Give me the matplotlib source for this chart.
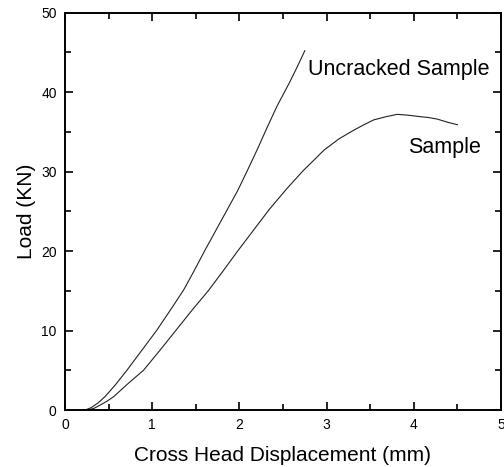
import matplotlib.pyplot as plt
from matplotlib.ticker import MultipleLocator

plt.rcParams['font.family'] = ['Liberation Sans', 'DejaVu Sans']

# Uncracked sample curve (displacement mm, load kN)
uncracked_x = [0.23, 0.30, 0.38, 0.46, 0.58, 0.71, 0.88, 1.05, 1.21, 1.36, 1.48, 1.60,
               1.73, 1.86, 1.98, 2.09, 2.21, 2.32, 2.43, 2.57, 2.66, 2.75]
uncracked_y = [0.0, 0.3, 0.9, 1.7, 3.2, 5.0, 7.5, 10.0, 12.6, 15.1, 17.5, 20.0,
               22.6, 25.2, 27.6, 30.1, 32.9, 35.6, 38.2, 41.1, 43.1, 45.2]

# Cracked sample curve
sample_x = [0.25, 0.33, 0.40, 0.48, 0.56, 0.72, 0.90, 1.08, 1.27, 1.46, 1.65, 1.82,
            1.98, 2.16, 2.34, 2.54, 2.73, 2.86, 2.97, 3.14, 3.31, 3.43, 3.54, 3.68,
            3.81, 3.93, 4.08, 4.17, 4.27, 4.39, 4.50]
sample_y = [0.0, 0.2, 0.6, 1.1, 1.7, 3.3, 5.0, 7.4, 10.0, 12.6, 15.1, 17.6,
            20.0, 22.6, 25.2, 27.8, 30.1, 31.5, 32.7, 34.1, 35.2, 35.9, 36.5, 36.9,
            37.2, 37.1, 36.9, 36.8, 36.6, 36.2, 35.9]

fig = plt.figure(figsize=(5.04, 4.67), dpi=100)
ax = fig.add_axes([0.129, 0.122, 0.865, 0.851])

ax.plot(uncracked_x, uncracked_y, color='#222222', linewidth=0.8)
ax.plot(sample_x, sample_y, color='#222222', linewidth=0.8)

ax.text(2.79, 42.8, 'Uncracked Sample', fontsize=15.5, va='center', ha='left')
ax.text(3.93, 33.0, 'Sample', fontsize=15.5, va='center', ha='left')

ax.set_xlim(0, 5)
ax.set_ylim(0, 50)
ax.xaxis.set_major_locator(MultipleLocator(1))
ax.xaxis.set_minor_locator(MultipleLocator(0.5))
ax.yaxis.set_major_locator(MultipleLocator(10))
ax.yaxis.set_minor_locator(MultipleLocator(5))
ax.tick_params(which='both', direction='in', top=True, right=True, labelsize=10, width=1.2)
ax.tick_params(which='major', length=6, pad=6)
ax.tick_params(which='minor', length=4)
for s in ax.spines.values():
    s.set_linewidth(1.4)

ax.set_xlabel('Cross Head Displacement (mm)', fontsize=15, labelpad=10)
ax.set_ylabel('Load (KN)', fontsize=15, labelpad=4)

fig.savefig('out.png', dpi=100)
